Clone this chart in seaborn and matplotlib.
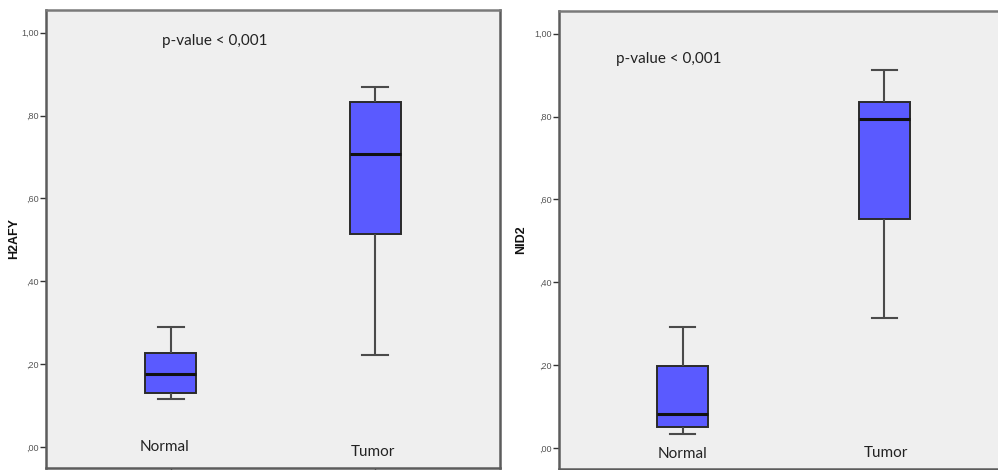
import numpy as np
import pandas as pd
import matplotlib
matplotlib.use("Agg")
import matplotlib.pyplot as plt
from matplotlib.ticker import FuncFormatter, FixedLocator
import seaborn as sns

# Five-number summaries (min, Q1, median, Q3, max) per group
categories = ["Normal", "Tumor"]
h2afy_normal = [0.116, 0.129, 0.176, 0.227, 0.289]
h2afy_tumor = [0.222, 0.514, 0.707, 0.833, 0.870]
nid2_normal = [0.033, 0.051, 0.081, 0.198, 0.293]
nid2_tumor = [0.313, 0.552, 0.795, 0.835, 0.912]
gene_names = ["H2AFY", "NID2"]
y_ticks = [0.0, 0.2, 0.4, 0.6, 0.8, 1.0]
p_label = "p-value < 0,001"

plt.rcParams["font.family"] = ["Liberation Sans", "DejaVu Sans"]

BOX_COLOR = "#5a5aff"
BG = "#efefef"
SPINE = "#5c5c5c"


def long_frame(normal, tumor):
    return pd.DataFrame({
        "group": [categories[0]] * len(normal) + [categories[1]] * len(tumor),
        "value": list(normal) + list(tumor),
    })


def spss_fmt(v, _pos=None):
    s = f"{v:.2f}".replace(".", ",")
    if s.startswith("0,"):
        s = s[1:]
    if s.startswith("-0,"):
        s = "-" + s[2:]
    return s


fig = plt.figure(figsize=(9.98, 4.70), dpi=100)
W, H = 998, 470

# cat_offsets: small nudges of the in-plot category captions (x offset, y position)
panels = [
    dict(frame=long_frame(h2afy_normal, h2afy_tumor), name=gene_names[0],
         rect=(46, 10, 500, 468), label_x=-0.057,
         p_pos=(-0.044, 0.98),
         cat_offsets=[(-0.03, 0.0), (-0.01, -0.012)]),
    dict(frame=long_frame(nid2_normal, nid2_tumor), name=gene_names[1],
         rect=(559, 11, 1008, 469), label_x=-0.071,
         p_pos=(-0.33, 0.939),
         cat_offsets=[(0.0, -0.015), (0.01, -0.013)]),
]

for p in panels:
    x0, y0, x1, y1 = p["rect"]
    ax = fig.add_axes([x0 / W, (H - y1) / H, (x1 - x0) / W, (y1 - y0) / H])
    ax.set_facecolor(BG)

    sns.boxplot(
        data=p["frame"], x="group", y="value", order=categories, ax=ax,
        color=BOX_COLOR, saturation=1, width=0.25, whis=(0, 100),
        linecolor="#2a2a2a", linewidth=1.4, showfliers=False,
        whiskerprops={"color": "#4a4a4a", "linewidth": 1.5},
        capprops={"color": "#4a4a4a", "linewidth": 1.5},
        medianprops={"color": "#111111", "linewidth": 2.2},
    )

    ax.set_xlim(-0.6126, 1.6126)
    ax.set_ylim(-0.051, 1.055)
    ax.yaxis.set_major_locator(FixedLocator(y_ticks))
    ax.yaxis.set_major_formatter(FuncFormatter(spss_fmt))
    ax.tick_params(axis="y", direction="out", length=4, width=1,
                   color="#333333", pad=1, labelsize=6.5, labelcolor="#555555")
    ax.tick_params(axis="x", direction="out", length=4, width=1,
                   color="#333333", labelbottom=False)

    ax.set_xlabel("")
    ax.set_ylabel(p["name"], fontsize=9, fontweight="bold", color="#111111")
    ax.yaxis.set_label_coords(p["label_x"], 0.5)

    for side in ["left", "right", "top", "bottom"]:
        ax.spines[side].set_color(SPINE)
        ax.spines[side].set_linewidth(1.8)
    ax.spines["top"].set_color("#7a7a7a")

    ax.text(p["p_pos"][0], p["p_pos"][1], p_label, ha="left", va="center",
            fontsize=11, family=["Lato", "DejaVu Sans"], color="#222222")
    for i, (cat, (dx, cy)) in enumerate(zip(categories, p["cat_offsets"])):
        ax.text(i + dx, cy, cat, ha="center", va="center",
                fontsize=11, family=["Lato", "DejaVu Sans"], color="#222222")

fig.savefig("out.png", dpi=100, facecolor="white")
